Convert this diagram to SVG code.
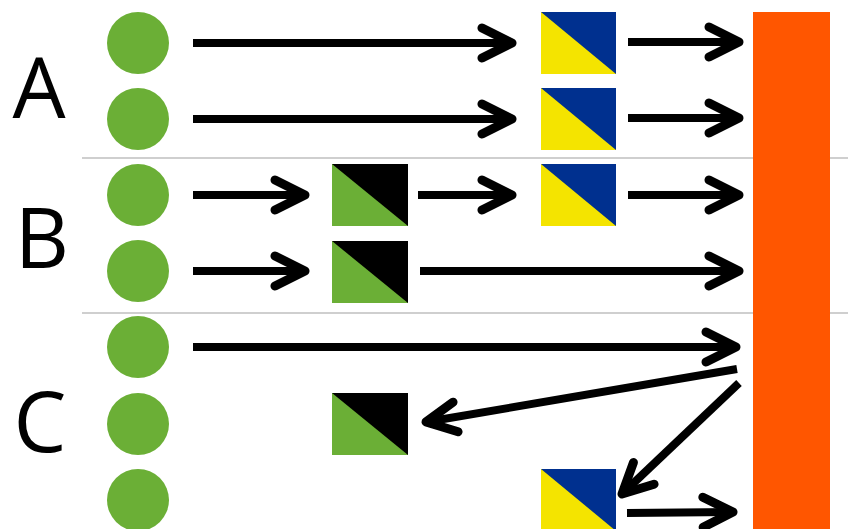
<svg xmlns="http://www.w3.org/2000/svg" width="848" height="529" viewBox="0 0 848 529">
  <defs>
    <marker id="head" markerUnits="userSpaceOnUse" viewBox="-40 -25 50 50" refX="0" refY="0" markerWidth="50" markerHeight="50" orient="auto" overflow="visible">
      <path d="M -30 -15 L 0 0 L -30 15" fill="none" stroke="#000" stroke-width="9" stroke-linecap="round" stroke-linejoin="round"/>
    </marker>
    <!-- split tiles: lower-left / upper-right halves -->
    <g id="tileYB">
      <rect x="0" y="0" width="75" height="62" fill="#F4E400"/>
      <polygon points="0,0 75,0 75,62" fill="#00308F"/>
    </g>
    <g id="tileGK">
      <rect x="0" y="0" width="76" height="62" fill="#6BAF36"/>
      <polygon points="0,0 76,0 76,62" fill="#000"/>
    </g>
  </defs>
  <style>
    .dot { fill: #6BAF36; }
    .lbl { font-family: "Open Sans", "Liberation Sans", sans-serif; font-size: 84px; fill: #000; text-anchor: middle; }
    .div { stroke: #A0A0A0; stroke-width: 1.2; }
    .arr { fill: none; stroke: #000; stroke-width: 8; marker-end: url(#head); }
  </style>
  <rect width="848" height="529" fill="#fff"/>

  <!-- group dividers -->
  <line class="div" x1="82" y1="158" x2="848" y2="158"/>
  <line class="div" x1="82" y1="313" x2="848" y2="313"/>

  <!-- group labels -->
  <text class="lbl" x="39" y="118">A</text>
  <text class="lbl" x="42" y="268">B</text>
  <text class="lbl" x="40" y="452">C</text>

  <!-- target bar -->
  <g id="bar"><rect x="753" y="12" width="77" height="530" fill="#FF5600"/></g>

  <!-- source dots -->
  <g id="dotA1"><circle class="dot" cx="138" cy="43" r="31"/></g>
  <g id="dotA2"><circle class="dot" cx="138" cy="119" r="31"/></g>
  <g id="dotB1"><circle class="dot" cx="138" cy="195" r="31"/></g>
  <g id="dotB2"><circle class="dot" cx="138" cy="271" r="31"/></g>
  <g id="dotC1"><circle class="dot" cx="138" cy="347" r="31"/></g>
  <g id="dotC2"><circle class="dot" cx="138" cy="424" r="31"/></g>
  <g id="dotC3"><circle class="dot" cx="138" cy="500" r="31"/></g>

  <!-- tiles -->
  <g id="tileA1"><use href="#tileYB" x="541" y="12"/></g>
  <g id="tileA2"><use href="#tileYB" x="541" y="88"/></g>
  <g id="tileB1a"><use href="#tileGK" x="332" y="164"/></g>
  <g id="tileB1b"><use href="#tileYB" x="541" y="164"/></g>
  <g id="tileB2"><use href="#tileGK" x="332" y="241"/></g>
  <g id="tileC2"><use href="#tileGK" x="332" y="393"/></g>
  <g id="tileC3"><use href="#tileYB" x="541" y="469"/></g>

  <!-- connectors -->
  <g id="connectors">
    <line class="arr" x1="193" y1="43" x2="512" y2="43"/>
    <line class="arr" x1="628" y1="42" x2="739" y2="42"/>
    <line class="arr" x1="193" y1="119" x2="512" y2="119"/>
    <line class="arr" x1="628" y1="118" x2="739" y2="118"/>
    <line class="arr" x1="193" y1="195" x2="305" y2="195"/>
    <line class="arr" x1="418" y1="195" x2="512" y2="195"/>
    <line class="arr" x1="628" y1="195" x2="739" y2="195"/>
    <line class="arr" x1="193" y1="271" x2="305" y2="271"/>
    <line class="arr" x1="420" y1="271" x2="739" y2="271"/>
    <line class="arr" x1="193" y1="347" x2="736" y2="347"/>
    <line class="arr" x1="737" y1="369" x2="426" y2="422"/>
    <line class="arr" x1="739" y1="383" x2="622" y2="494"/>
    <line class="arr" x1="627" y1="513" x2="733" y2="512"/>
  </g>
</svg>
